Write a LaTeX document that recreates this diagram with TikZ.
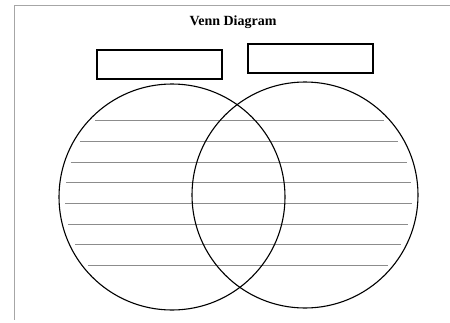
\documentclass[tikz,border=0pt]{standalone}
\usepackage{fontspec}
\setmainfont{Liberation Serif}
\usetikzlibrary{positioning}

\begin{document}
\begin{tikzpicture}[
  x=1pt, y=-1pt,
  titulo/.style={font=\fontsize{14}{16}\selectfont\bfseries, inner sep=0pt},
  caja/.style={draw, rectangle, line width=1.1pt, minimum width=125pt, minimum height=29pt, inner sep=0pt},
  circulo/.style={draw, circle, line width=1.1pt, minimum size=226pt, inner sep=0pt},
  renglon/.style={black!45, line width=0.7pt},
  marco/.style={black!35, line width=0.8pt}
]
\useasboundingbox (0,0) rectangle (450,322);

% Marco de la hoja
\draw[marco] (450,5) -- (14,5) -- (14,320);

% Titulo y casillas
\node[titulo] (tit) at (233,22) {Venn Diagram};
\node[caja] (cajaA) at (159.5,64.5) {};
\node[caja] (cajaB) at (310.5,58.5) {};

% Renglones dentro de los circulos
\foreach \yy in {120,141,162,182,203,224,244,265} {
  \pgfmathsetmacro{\xa}{172 - sqrt(113*113 - (\yy-197)*(\yy-197)) + 6}
  \pgfmathsetmacro{\xb}{305 + sqrt(113*113 - (\yy-195)*(\yy-195)) - 6}
  \draw[renglon] (\xa,\yy) -- (\xb,\yy);
}

% Circulos
\node[circulo] (izq) at (172,197) {};
\node[circulo] (der) at (305,195) {};
\end{tikzpicture}
\end{document}
